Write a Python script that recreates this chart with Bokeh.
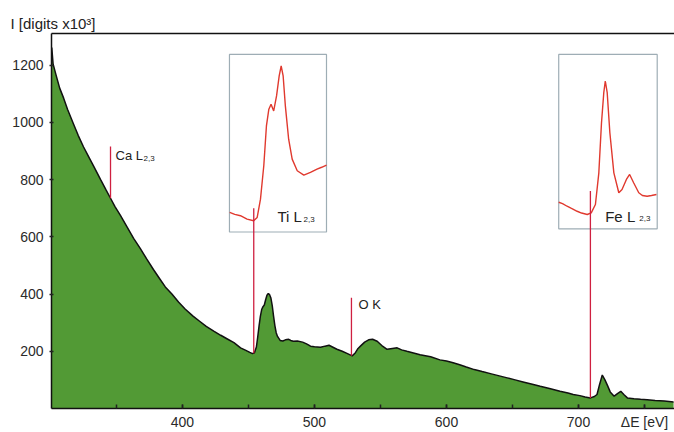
from bokeh.plotting import figure
from bokeh.models import Range1d, LinearAxis, FixedTicker, Label, ColumnDataSource
from bokeh.embed import file_html
from bokeh.resources import INLINE

# ---------------- data ----------------
# main EELS spectrum: energy loss (eV) and intensity (digits x10^3)
energy_ev = [301, 302, 304, 307, 310, 313, 317, 321, 325, 329, 333, 338, 342, 345.5, 349,
             353, 358, 363, 368, 373, 378, 383, 387, 392, 397, 402, 408, 413, 418, 424,
             429, 434, 439, 444, 448, 451, 453, 454.5, 456, 457, 458, 459, 460, 461, 462,
             463, 464, 465, 466, 467, 468, 469, 470, 471, 472, 474, 476, 478, 480.5, 482,
             484, 487, 491, 494, 497, 500, 504.5, 508, 511, 514, 517, 521, 525, 528.6, 531,
             533, 535, 538, 541, 544, 547.5, 551, 555, 559, 562.6, 566, 570, 575, 580, 588,
             595, 600, 605, 610, 615, 621, 627, 634, 640, 646, 652, 658, 665, 671, 678,
             686, 692, 696, 701, 705, 709, 712, 714, 716, 718, 720, 722, 724, 727, 729.5,
             732, 734.5, 737, 742, 747, 752, 758, 765, 772]
intensity = [1262, 1205, 1170, 1120, 1085, 1045, 1000, 955, 915, 880, 845, 800, 765, 735, 705,
             675, 635, 595, 560, 522, 486, 452, 425, 400, 372, 348, 323, 305, 287, 270,
             256, 243, 230, 212, 203, 196, 192, 195, 215, 250, 288, 322, 346, 356, 362,
             380, 396, 402, 398, 386, 360, 323, 290, 265, 252, 238, 236, 240, 242, 238,
             235, 236, 232, 226, 218, 216, 214, 218, 221, 214, 207, 200, 192, 184, 195,
             210, 219, 232, 240, 242, 235, 220, 207, 210, 212, 205, 200, 194, 188, 181,
             170, 166, 160, 153, 145, 136, 129, 121, 114, 107, 100, 93, 85, 78, 70,
             60, 54, 49, 45, 40, 37, 42, 49, 85, 117, 100, 80, 58, 43, 52,
             60, 48, 37, 34, 32, 31, 28, 26, 23]

# edge markers: energy, base (spectrum level) and top of the red line
edge_energy = [345.5, 454.0, 528.0, 709.0]
edge_base = [735, 193, 184, 37]
edge_top = [916, 700, 387, 760]

# Ti L2,3 inset: energy (eV) and relative intensity (%)
ti_energy = [445.2, 447.5, 450.1, 453.1, 456.1, 457.7, 459.2, 460.7, 461.9, 463.0, 464.0, 465.2,
             466.5, 467.7, 468.6, 469.5, 470.5, 472.0, 473.6, 475.9, 478.9, 481.9, 484.9, 487.0, 489.2]
ti_rel = [11.8, 10.6, 9.8, 7.8, 6.8, 8.8, 19.8, 39.9, 63.9, 74.0, 77.0, 72.9,
          82.0, 94.0, 100.0, 94.0, 76.0, 55.9, 43.9, 36.9, 34.3, 35.9, 37.9, 39.0, 40.3]

# Fe L2,3 inset: energy (eV) and relative intensity (%)
fe_energy = [691.3, 693.3, 695.7, 698.0, 701.0, 703.3, 706.3, 708.4, 710.6, 712.4, 713.8, 715.0,
             715.8, 716.8, 718.2, 720.3, 722.9, 724.6, 726.9, 728.6, 730.7, 733.4, 735.3, 737.8,
             740.1, 742.7]
fe_rel = [18.0, 17.1, 15.3, 13.8, 11.9, 10.7, 9.7, 10.8, 16.5, 37.9, 71.8, 92.1,
          100.0, 92.1, 65.0, 37.9, 24.4, 26.6, 33.4, 36.8, 31.2, 24.4, 22.6, 22.1,
          22.6, 23.2]

x_major_ticks = [400, 500, 600, 700]
x_minor_ticks = [350, 400, 450, 500, 550, 600, 650, 700, 750]
y_ticks = [200, 400, 600, 800, 1000, 1200]
x_title = "ΔE [eV]"
y_title = "I [digits x10³]"

# ---------------- layout / style ----------------
X_LO, X_HI = 300.8, 772.7
Y_LO, Y_HI = 0, 1311
X_TITLE_AT = 750          # the x title sits on the tick-label line, at the right end
GREEN = "#529a35"
RED_EDGE = "#cf2040"
RED_CURVE = "#e0392e"
BOX_COLOR = "#9eadb5"
FONT = "Liberation Sans"

# inset boxes in main-plot coordinates: (left, right, bottom, top)
ti_box = (435.6, 509.1, 617, 1238)
fe_box = (685.0, 759.6, 628, 1238)
# data window shown by each inset: (x_lo, x_hi, y_lo, y_hi)
ti_win = (445.1, 489.2, 0, 107)
fe_win = (691.3, 743.1, 0, 118)


def inset_range(main_lo, main_hi, box_lo, box_hi, win_lo, win_hi):
    k = (win_hi - win_lo) / (box_hi - box_lo)
    return Range1d(win_lo + (main_lo - box_lo) * k, win_lo + (main_hi - box_lo) * k)


p = figure(width=674, height=432, x_range=Range1d(X_LO, X_HI), y_range=Range1d(Y_LO, Y_HI),
           output_backend="svg", toolbar_location=None, title=y_title,
           min_border_left=51, min_border_right=0, min_border_top=33, min_border_bottom=23)
p.outline_line_color = None
p.grid.visible = False
p.background_fill_color = "white"
p.border_fill_color = "white"

p.title.align = "left"
p.title.offset = -41
p.title.standoff = 4
p.title.text_font = FONT
p.title.text_font_size = "15px"
p.title.text_font_style = "normal"
p.title.text_color = "#222"

p.extra_x_ranges = {
    "ti_x": inset_range(X_LO, X_HI, ti_box[0], ti_box[1], ti_win[0], ti_win[1]),
    "fe_x": inset_range(X_LO, X_HI, fe_box[0], fe_box[1], fe_win[0], fe_win[1]),
}
p.extra_y_ranges = {
    "ti_y": inset_range(Y_LO, Y_HI, ti_box[2], ti_box[3], ti_win[2], ti_win[3]),
    "fe_y": inset_range(Y_LO, Y_HI, fe_box[2], fe_box[3], fe_win[2], fe_win[3]),
}

# axes
xa = p.xaxis[0]
xa.ticker = FixedTicker(ticks=x_major_ticks + [X_TITLE_AT], minor_ticks=x_minor_ticks)
xa.major_label_overrides = {X_TITLE_AT: x_title}
xa.major_tick_in = 4
xa.major_tick_out = 0
xa.minor_tick_in = 4
xa.minor_tick_out = 0
xa.major_tick_line_color = "#222"
xa.minor_tick_line_color = "#222"
xa.major_tick_line_width = 1.5
xa.minor_tick_line_width = 1.5
xa.axis_line_color = "#111"
xa.axis_line_width = 1.5
xa.major_label_standoff = 5
xa.major_label_text_font = FONT
xa.major_label_text_font_size = "14px"
xa.major_label_text_color = "#2a2a2a"

ya = p.yaxis[0]
ya.ticker = FixedTicker(ticks=y_ticks)
ya.major_tick_in = 2
ya.major_tick_out = 2
ya.minor_tick_line_color = None
ya.major_tick_line_color = "#222"
ya.major_tick_line_width = 1.5
ya.axis_line_color = "#111"
ya.axis_line_width = 1.5
ya.major_label_standoff = 6
ya.major_label_text_font = FONT
ya.major_label_text_font_size = "14px"
ya.major_label_text_color = "#2a2a2a"

top_axis = LinearAxis(ticker=FixedTicker(ticks=[]), major_label_text_font_size="0px",
                      major_tick_line_color=None, minor_tick_line_color=None,
                      axis_line_color="#111", axis_line_width=1.5, major_label_standoff=0)
p.add_layout(top_axis, "above")

# spectrum
src = ColumnDataSource(dict(e=energy_ev, i=intensity))
p.varea(x="e", y1=0, y2="i", source=src, fill_color=GREEN)
p.line(x="e", y="i", source=src, line_color="#111", line_width=1.5)

# inset boxes
p.quad(left=[ti_box[0], fe_box[0]], right=[ti_box[1], fe_box[1]],
       bottom=[ti_box[2], fe_box[2]], top=[ti_box[3], fe_box[3]],
       fill_color="white", line_color=BOX_COLOR, line_width=1.2)

# inset curves
p.line(ti_energy, ti_rel, x_range_name="ti_x", y_range_name="ti_y",
       line_color=RED_CURVE, line_width=1.4)
p.line(fe_energy, fe_rel, x_range_name="fe_x", y_range_name="fe_y",
       line_color=RED_CURVE, line_width=1.4)

# edge marker lines
p.segment(x0=edge_energy, y0=edge_base, x1=edge_energy, y1=edge_top,
          line_color=RED_EDGE, line_width=1.3)


def label(text, x, y, dx, dy, size, align="left", baseline="alphabetic", style="normal"):
    p.add_layout(Label(x=x, y=y, x_offset=dx, y_offset=dy, text=text, text_font=FONT,
                       text_font_size=size, text_align=align, text_baseline=baseline,
                       text_color="#222", text_font_style=style))


# edge labels
label("Ca L", edge_energy[0], edge_top[0], 5, -9, "13px")
label("2,3", edge_energy[0], edge_top[0], 33, -12, "8px")
label("O K", edge_energy[2], edge_top[2], 7, -6.5, "13px")
label("Ti L", ti_box[1], ti_box[2], -49, 15.5, "15px")
label("2,3", ti_box[1], ti_box[2], -23, 12.5, "8px")
label("Fe L", fe_box[1], fe_box[2], -52, 12.5, "15px")
label("2,3", fe_box[1], fe_box[2], -18, 10.5, "8px")

open("out.html", "w").write(file_html(p, INLINE))
